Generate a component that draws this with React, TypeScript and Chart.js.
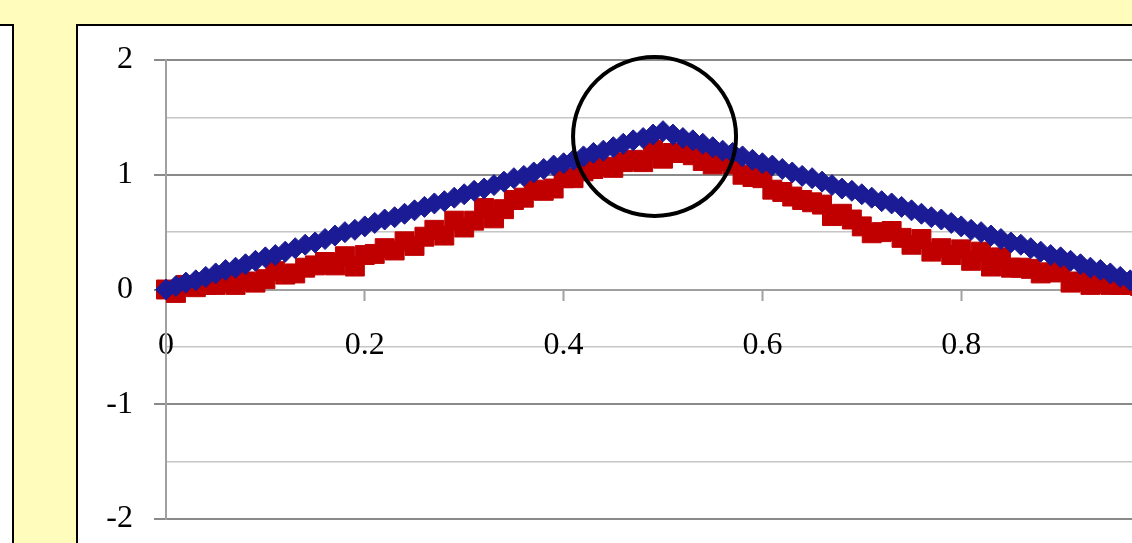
import React, { useEffect, useRef } from 'react';
import { Chart, registerables } from 'chart.js';

Chart.register(...registerables);

// ---- data ----
const X_VALUES = [
  0, 0.01, 0.02, 0.03, 0.04, 0.05, 0.06, 0.07, 0.08, 0.09,
  0.1, 0.11, 0.12, 0.13, 0.14, 0.15, 0.16, 0.17, 0.18, 0.19,
  0.2, 0.21, 0.22, 0.23, 0.24, 0.25, 0.26, 0.27, 0.28, 0.29,
  0.3, 0.31, 0.32, 0.33, 0.34, 0.35, 0.36, 0.37, 0.38, 0.39,
  0.4, 0.41, 0.42, 0.43, 0.44, 0.45, 0.46, 0.47, 0.48, 0.49,
  0.5, 0.51, 0.52, 0.53, 0.54, 0.55, 0.56, 0.57, 0.58, 0.59,
  0.6, 0.61, 0.62, 0.63, 0.64, 0.65, 0.66, 0.67, 0.68, 0.69,
  0.7, 0.71, 0.72, 0.73, 0.74, 0.75, 0.76, 0.77, 0.78, 0.79,
  0.8, 0.81, 0.82, 0.83, 0.84, 0.85, 0.86, 0.87, 0.88, 0.89,
  0.9, 0.91, 0.92, 0.93, 0.94, 0.95, 0.96, 0.97, 0.98, 0.99,
  1,
];

const BLUE_VALUES = [
  0, 0.03, 0.06, 0.08, 0.11, 0.14, 0.17, 0.19, 0.22, 0.25,
  0.28, 0.3, 0.33, 0.36, 0.39, 0.41, 0.44, 0.47, 0.5, 0.52,
  0.55, 0.58, 0.61, 0.63, 0.66, 0.69, 0.72, 0.75, 0.77, 0.8,
  0.83, 0.86, 0.88, 0.91, 0.94, 0.97, 0.99, 1.02, 1.05, 1.08,
  1.1, 1.13, 1.16, 1.19, 1.21, 1.24, 1.27, 1.3, 1.32, 1.35,
  1.38, 1.35, 1.32, 1.3, 1.27, 1.24, 1.21, 1.19, 1.16, 1.13,
  1.1, 1.08, 1.05, 1.02, 0.99, 0.97, 0.94, 0.91, 0.88, 0.86,
  0.83, 0.8, 0.77, 0.75, 0.72, 0.69, 0.66, 0.63, 0.61, 0.58,
  0.55, 0.52, 0.5, 0.47, 0.44, 0.41, 0.39, 0.36, 0.33, 0.3,
  0.28, 0.25, 0.22, 0.19, 0.17, 0.14, 0.11, 0.08, 0.06, 0.03,
  0,
];

const RED_VALUES = [
  0, -0.03, 0.04, 0.02, 0.04, 0.04, 0.06, 0.04, 0.07, 0.06,
  0.09, 0.16, 0.13, 0.14, 0.19, 0.21, 0.24, 0.21, 0.29, 0.2,
  0.3, 0.31, 0.36, 0.34, 0.42, 0.38, 0.46, 0.52, 0.47, 0.6,
  0.54, 0.6, 0.71, 0.62, 0.7, 0.78, 0.8, 0.87, 0.86, 0.88,
  0.97, 0.97, 1.03, 1.05, 1.07, 1.06, 1.11, 1.13, 1.11, 1.22,
  1.14, 1.19, 1.19, 1.17, 1.12, 1.09, 1.12, 1.09, 1.0, 0.98,
  0.97, 0.87, 0.85, 0.81, 0.78, 0.76, 0.74, 0.64, 0.66, 0.61,
  0.55, 0.49, 0.5, 0.51, 0.45, 0.39, 0.44, 0.33, 0.36, 0.3,
  0.35, 0.25, 0.33, 0.2, 0.28, 0.19, 0.19, 0.18, 0.14, 0.15,
  0.15, 0.06, 0.07, 0.04, 0.05, 0.04, 0.04, 0.04, 0.03, 0.02,
  0,
];

const X_TICK_LABELS = ['0', '0.2', '0.4', '0.6', '0.8', '1'];
const Y_TICK_LABELS = ['-2', '-1', '0', '1', '2'];

// highlight circle centre (data coordinates)
const CIRCLE_X = 0.4915;
const CIRCLE_Y = 1.333;

const YELLOW = '#FFFCBC';
const BLUE = '#1b1b96';
const RED = '#c00000';
const FONT = "'Liberation Serif', 'DejaVu Serif', serif";

const circlePlugin = {
  id: 'highlightCircle',
  afterDatasetsDraw(chart: any) {
    const { ctx, scales } = chart;
    const cx = scales.x.getPixelForValue(CIRCLE_X);
    const cy = scales.y.getPixelForValue(CIRCLE_Y);
    ctx.save();
    ctx.beginPath();
    ctx.ellipse(cx, cy, 81.5, 79.5, 0, 0, Math.PI * 2);
    ctx.lineWidth = 4;
    ctx.strokeStyle = '#000';
    ctx.stroke();
    ctx.restore();
  },
};

export default function App() {
  const ref = useRef<HTMLCanvasElement>(null);

  useEffect(() => {
    const canvas = ref.current;
    if (!canvas) return;
    const chart = new Chart(canvas, {
      type: 'scatter',
      data: {
        datasets: [
          {
            label: 'blue',
            data: X_VALUES.map((x, i) => ({ x, y: BLUE_VALUES[i] })),
            pointStyle: 'rectRot',
            pointRadius: 10.5,
            pointBorderWidth: 1,
            backgroundColor: BLUE,
            borderColor: BLUE,
            showLine: false,
            clip: false as any,
          },
          {
            label: 'red',
            data: X_VALUES.map((x, i) => ({ x, y: RED_VALUES[i] })),
            pointStyle: 'rect',
            pointRadius: 13.4,
            pointBorderWidth: 1,
            backgroundColor: RED,
            borderColor: RED,
            showLine: false,
            clip: false as any,
          },
        ],
      },
      options: {
        animation: false,
        responsive: false,
        events: [],
        layout: { padding: { left: 0, top: 34, right: 58, bottom: 24 } },
        plugins: {
          legend: { display: false },
          tooltip: { enabled: false },
          title: { display: false },
        },
        scales: {
          x: {
            type: 'linear',
            min: 0,
            max: 1,
            position: { y: 0 } as any,
            afterFit: (s: any) => {
              s.height = 0;
              s.paddingLeft = 0;
              s.paddingRight = 0;
              s.paddingTop = 0;
              s.paddingBottom = 0;
            },
            ticks: {
              stepSize: 0.2,
              autoSkip: false,
              maxRotation: 0,
              padding: 27,
              color: '#000',
              font: { family: FONT, size: 32 },
              callback: (_v: any, i: number) => X_TICK_LABELS[i] ?? '',
            },
            grid: {
              drawOnChartArea: false,
              drawTicks: true,
              tickLength: 10,
              tickColor: '#a0a0a0',
              tickWidth: 2,
            },
            border: { display: true, color: '#a0a0a0', width: 2 },
          },
          y: {
            type: 'linear',
            min: -2,
            max: 2,
            position: 'left',
            afterFit: (s: any) => {
              s.width = 88;
              s.paddingTop = 0;
              s.paddingBottom = 0;
              s.paddingLeft = 0;
              s.paddingRight = 0;
            },
            ticks: {
              stepSize: 0.5,
              padding: 21,
              color: '#000',
              font: { family: FONT, size: 32 },
              callback: (v: any) => {
                const n = Number(v);
                return Number.isInteger(n) ? Y_TICK_LABELS[n + 2] : '';
              },
            },
            grid: {
              color: (c: any) => {
                const v = c.tick ? c.tick.value : 0;
                if (v === 0) return '#a0a0a0';
                return Number.isInteger(v) ? '#8a8a8a' : '#c6c6c6';
              },
              lineWidth: (c: any) => {
                const v = c.tick ? c.tick.value : 0;
                return Number.isInteger(v) ? 2 : 1.5;
              },
              tickColor: (c: any) => {
                const v = c.tick ? c.tick.value : 0;
                return Number.isInteger(v) ? '#8a8a8a' : 'rgba(0,0,0,0)';
              },
              tickLength: 12,
              tickWidth: 2,
            },
            border: { display: true, color: '#a0a0a0', width: 2 },
          },
        },
      },
      plugins: [circlePlugin],
    });
    return () => chart.destroy();
  }, []);

  return (
    <div
      style={{
        position: 'fixed',
        left: 0,
        top: 0,
        width: 1132,
        height: 543,
        overflow: 'hidden',
        background: YELLOW,
      }}
    >
      <div
        style={{
          position: 'absolute',
          left: -10,
          top: 24,
          width: 22,
          height: 600,
          background: '#fff',
          borderTop: '2px solid #000',
          borderRight: '2px solid #000',
        }}
      />
      <div
        style={{
          position: 'absolute',
          left: 76,
          top: 24,
          width: 1200,
          height: 600,
          background: '#fff',
          borderTop: '2px solid #000',
          borderLeft: '2px solid #000',
        }}
      >
        <canvas
          ref={ref}
          width={1140}
          height={517}
          style={{ position: 'absolute', left: 0, top: 0, width: 1140, height: 517 }}
        />
      </div>
    </div>
  );
}
